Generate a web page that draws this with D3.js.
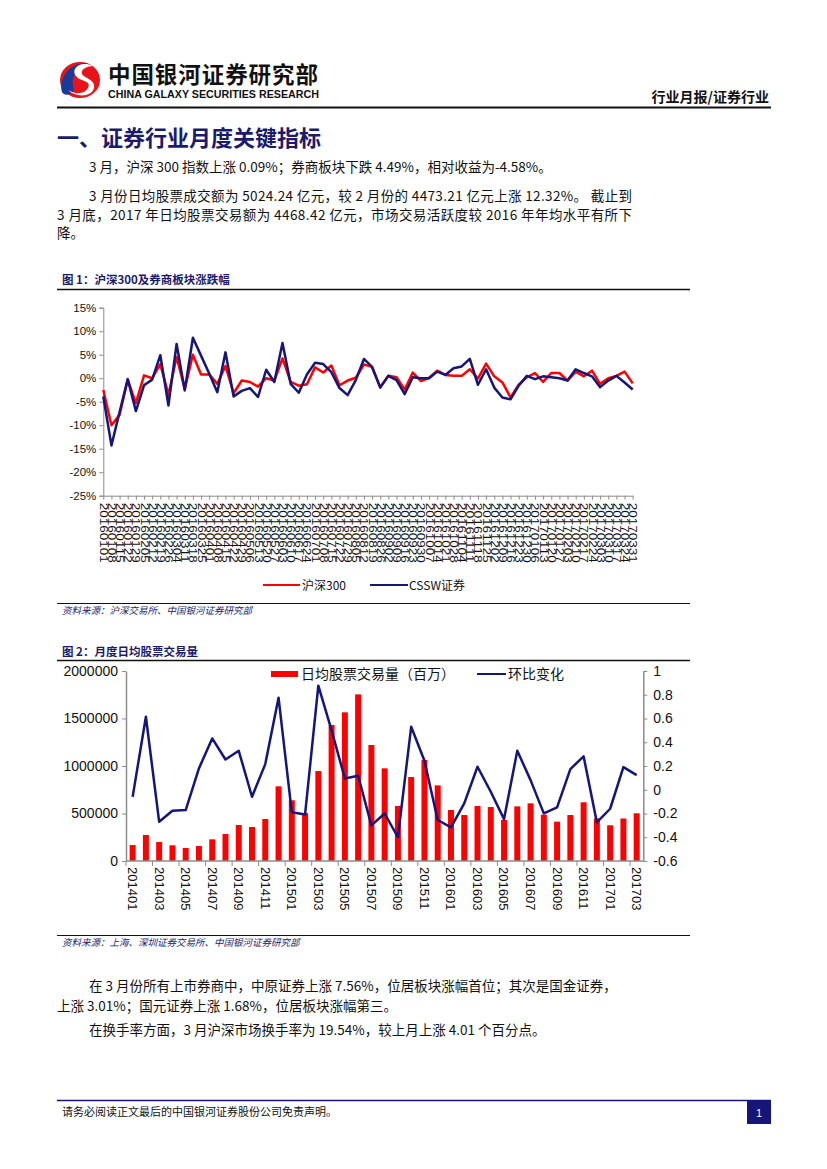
<!DOCTYPE html>
<html><head><meta charset="utf-8">
<script src="https://cdn.jsdelivr.net/npm/d3@7"></script>
<style>
body{margin:0;background:#fff;}
svg{display:block;}
</style></head>
<body><svg id="page" width="827" height="1169"></svg>
<script>
// ---------- Data ----------
const weekLabels = ["20160101","20160108","20160115","20160122","20160129","20160205","20160212","20160219","20160226","20160304",
"20160311","20160318","20160325","20160401","20160408","20160415","20160422","20160429","20160506","20160513",
"20160520","20160527","20160603","20160610","20160617","20160624","20160701","20160708","20160715","20160722",
"20160729","20160805","20160812","20160819","20160826","20160902","20160909","20160916","20160923","20160930",
"20161007","20161014","20161021","20161028","20161104","20161111","20161118","20161125","20161202","20161209",
"20161216","20161223","20161230","20170106","20170113","20170120","20170127","20170203","20170210","20170217",
"20170224","20170303","20170310","20170317","20170324","20170331"];
const hs300 = [-2.5,-10.0,-7.8,-0.3,-5.3,0.6,0.0,3.0,-3.5,4.5,
-2.3,5.0,0.8,0.8,-1.2,2.6,-3.2,-0.5,-0.8,-1.8,
0.0,-0.5,4.2,-0.8,-1.6,-1.3,2.3,1.2,2.7,-1.5,
-0.5,0.1,2.9,2.4,-1.9,0.5,0.2,-2.4,1.2,-0.6,
0.1,1.6,0.7,0.5,0.5,1.9,-0.1,3.1,0.4,-0.9,
-4.1,-1.4,0.2,1.1,-0.8,1.1,1.1,-0.5,1.4,0.4,
1.6,-1.2,0.0,0.5,1.4,-1.1];
const csswSec = [-3.9,-14.3,-7.2,-0.2,-7.0,-1.5,-0.3,4.9,-5.8,7.3,
-2.6,8.6,4.8,1.0,-3.0,5.5,-3.9,-2.7,-2.1,-4.0,
1.8,-0.8,7.5,-1.2,-3.1,0.8,3.3,3.0,1.3,-2.1,
-3.6,-0.4,4.1,2.4,-2.0,0.5,-0.4,-3.4,0.2,0.0,
0.0,1.4,0.7,2.1,2.5,4.1,-1.4,1.9,-2.0,-4.1,
-4.5,-1.6,0.5,-0.2,0.4,0.2,0.0,-0.5,1.9,1.1,
0.4,-1.9,-0.5,0.5,-0.9,-2.4];
const pctTicks = [-25,-20,-15,-10,-5,0,5,10,15];

const months = ["201401","201402","201403","201404","201405","201406","201407","201408","201409","201410","201411","201412",
"201501","201502","201503","201504","201505","201506","201507","201508","201509","201510","201511","201512",
"201601","201602","201603","201604","201605","201606","201607","201608","201609","201610","201611","201612",
"201701","201702","201703"];
const dailyVolume = [168000,274000,200000,165000,137000,158000,228000,284000,379000,358000,
442000,786000,639000,505000,947000,1432000,1565000,1754000,1221000,975000,
579000,884000,1063000,796000,537000,484000,579000,568000,432000,575000,
607000,488000,414000,484000,618000,448000,376000,447321,502424];
const momChange = [-0.06,0.615,-0.27,-0.177,-0.171,0.18,0.432,0.255,0.328,-0.059,
0.216,0.775,-0.19,-0.208,0.876,0.50,0.095,0.118,-0.30,-0.20,
-0.40,0.53,0.244,-0.255,-0.317,-0.115,0.194,-0.017,-0.247,0.328,
0.081,-0.199,-0.149,0.174,0.281,-0.275,-0.16,0.191,0.1232];
const volTicks = [0,500000,1000000,1500000,2000000];
const momTicks = [-0.6,-0.4,-0.2,0,0.2,0.4,0.6,0.8,1];

// ---------- Styles ----------
const RED = "#ff0000", NAVY = "#15157a", TITLE = "#1a1a6e", AXIS = "#8c8c8c";
const CJK = "'Noto Sans CJK SC','Noto Sans',sans-serif";
const LAT = "'Liberation Sans',Arial,sans-serif";

const svg = d3.select("#page");

// ---------- Header ----------
const logo = svg.append("g");
logo.append("ellipse").attr("cx",80).attr("cy",80).attr("rx",20).attr("ry",18).attr("fill","#e8141b");
logo.append("path").attr("d","M62,92 C58,78 70,62 88,63 C76,68 70,78 74,90 C70,96 64,96 62,92 Z").attr("fill","#1a3a9a");
logo.append("path").attr("d","M93,66 C82,60 70,68 76,76 C80,82 92,80 88,88 C84,95 74,94 68,90 C76,98 92,97 94,88 C96,80 84,78 82,74 C80,69 88,66 93,66 Z").attr("fill","#fff");
svg.append("text").attr("x",108).attr("y",83).attr("font-family",CJK).attr("font-weight","bold")
  .attr("font-size",22.5).attr("fill","#111").attr("textLength",210).text("中国银河证券研究部");
svg.append("text").attr("x",108).attr("y",98).attr("font-family",LAT).attr("font-weight","bold")
  .attr("font-size",10).attr("fill","#111").attr("textLength",211).attr("lengthAdjust","spacingAndGlyphs")
  .text("CHINA GALAXY SECURITIES RESEARCH");
svg.append("text").attr("x",769).attr("y",102).attr("text-anchor","end").attr("font-family",CJK)
  .attr("font-weight","bold").attr("font-size",14).attr("fill","#111").text("行业月报/证券行业");
svg.append("line").attr("x1",57).attr("x2",771).attr("y1",107.5).attr("y2",107.5).attr("stroke","#111").attr("stroke-width",2);

// ---------- Heading & paragraphs ----------
svg.append("text").attr("x",57).attr("y",146).attr("font-family",CJK).attr("font-weight","bold")
  .attr("font-size",22).attr("fill",TITLE).text("一、证券行业月度关键指标");

function para(x, y, s, len){
  const t = svg.append("text").attr("x",x).attr("y",y).attr("font-family",CJK).attr("font-size",13.5).attr("fill","#111").text(s);
  if(len) t.attr("textLength",len).attr("lengthAdjust","spacing");
}
para(89,172,"3 月，沪深 300 指数上涨 0.09%；券商板块下跌 4.49%，相对收益为-4.58%。");
para(89,201,"3 月份日均股票成交额为 5024.24 亿元，较 2 月份的 4473.21 亿元上涨 12.32%。 截止到",543);
para(57,220,"3 月底，2017 年日均股票交易额为 4468.42 亿元，市场交易活跃度较 2016 年年均水平有所下",575);
para(57,238,"降。");

// ---------- Figure 1 ----------
svg.append("text").attr("x",62).attr("y",284).attr("font-family",CJK).attr("font-weight","bold")
  .attr("font-size",11.5).attr("fill",TITLE).text("图 1：沪深300及券商板块涨跌幅");
svg.append("line").attr("x1",57).attr("x2",690).attr("y1",289.5).attr("y2",289.5).attr("stroke","#111").attr("stroke-width",1.5);
svg.append("line").attr("x1",57).attr("x2",690).attr("y1",603.5).attr("y2",603.5).attr("stroke","#111").attr("stroke-width",1);
svg.append("text").attr("x",62).attr("y",614).attr("font-family",CJK).attr("font-style","italic")
  .attr("font-size",9.5).attr("fill",TITLE).text("资料来源：沪深交易所、中国银河证券研究部");

const x1 = d3.scalePoint().domain(weekLabels).range([103.3, 632.7]);
const y1 = d3.scaleLinear().domain([-25,15]).range([495.7, 307.7]);

const g1 = svg.append("g");
const yAx1 = g1.append("g").attr("transform","translate(103.3,0)")
  .call(d3.axisLeft(y1).tickValues(pctTicks).tickFormat(d=>d+"%").tickSize(4).tickPadding(3));
yAx1.select(".domain").attr("stroke",AXIS);
yAx1.selectAll(".tick line").attr("stroke",AXIS);
yAx1.selectAll("text").attr("font-family",LAT).attr("font-size",11.5).attr("fill","#111");

const xAx1 = g1.append("g").attr("transform","translate(0,495.7)")
  .call(d3.axisBottom(x1).tickSize(4).tickSizeOuter(0).tickPadding(0));
xAx1.select(".domain").attr("stroke",AXIS);
xAx1.selectAll(".tick line").attr("stroke",AXIS);
xAx1.selectAll("text").attr("font-family",LAT).attr("font-size",11.3).attr("fill","#111")
  .attr("text-anchor","start").attr("transform","translate(0,7) rotate(90)").attr("dy","0.35em").attr("y",0).attr("x",0)
  .attr("textLength",60).attr("lengthAdjust","spacingAndGlyphs");

const line1 = (arr)=> d3.line().x((d,i)=>x1(weekLabels[i])).y(d=>y1(d))(arr);
g1.append("path").attr("d",line1(hs300)).attr("fill","none").attr("stroke",RED).attr("stroke-width",2.5).attr("stroke-linejoin","round");
g1.append("path").attr("d",line1(csswSec)).attr("fill","none").attr("stroke",NAVY).attr("stroke-width",2.5).attr("stroke-linejoin","round");

// legend 1
const lg1 = g1.append("g");
lg1.append("line").attr("x1",263).attr("x2",300).attr("y1",585).attr("y2",585).attr("stroke",RED).attr("stroke-width",2);
lg1.append("text").attr("x",302).attr("y",589.5).attr("font-family",CJK).attr("font-size",12).attr("fill","#111").text("沪深300");
lg1.append("line").attr("x1",370).attr("x2",408).attr("y1",585).attr("y2",585).attr("stroke",NAVY).attr("stroke-width",2);
lg1.append("text").attr("x",409).attr("y",589.5).attr("font-family",CJK).attr("font-size",12).attr("fill","#111").text("CSSW证券");

// ---------- Figure 2 ----------
svg.append("text").attr("x",62).attr("y",656).attr("font-family",CJK).attr("font-weight","bold")
  .attr("font-size",11.5).attr("fill",TITLE).text("图 2：月度日均股票交易量");
svg.append("line").attr("x1",57).attr("x2",690).attr("y1",660.5).attr("y2",660.5).attr("stroke","#111").attr("stroke-width",1.5);
svg.append("line").attr("x1",57).attr("x2",690).attr("y1",935.5).attr("y2",935.5).attr("stroke","#111").attr("stroke-width",1);
svg.append("text").attr("x",62).attr("y",946).attr("font-family",CJK).attr("font-style","italic")
  .attr("font-size",9.5).attr("fill",TITLE).text("资料来源：上海、深圳证券交易所、中国银河证券研究部");

const x2 = d3.scaleBand().domain(months).range([126, 643.3]).paddingInner(0.55).paddingOuter(0.275);
const yL = d3.scaleLinear().domain([0,2000000]).range([861,671]);
const yR = d3.scaleLinear().domain([-0.6,1]).range([861,671]);
const g2 = svg.append("g");

g2.selectAll("rect.bar").data(dailyVolume).join("rect").attr("class","bar")
  .attr("x",(d,i)=>x2(months[i])).attr("width",x2.bandwidth())
  .attr("y",d=>yL(d)).attr("height",d=>yL(0)-yL(d)).attr("fill",RED);

const yAxL = g2.append("g").attr("transform","translate(126,0)")
  .call(d3.axisLeft(yL).tickValues(volTicks).tickFormat(d3.format("d")).tickSize(4).tickSizeOuter(0).tickPadding(4));
const yAxR = g2.append("g").attr("transform","translate(643.3,0)")
  .call(d3.axisRight(yR).tickValues(momTicks).tickFormat(d=>String(+d.toFixed(1))).tickSize(4).tickSizeOuter(0).tickPadding(6));
[yAxL,yAxR].forEach(a=>{
  a.select(".domain").attr("stroke",AXIS).attr("stroke-width",1.5);
  a.selectAll(".tick line").attr("stroke",AXIS);
  a.selectAll("text").attr("font-family",LAT).attr("font-size",14).attr("fill","#111");
});

// bottom axis
const step = x2.step(), off = (step - x2.bandwidth())/2;
g2.append("line").attr("x1",126).attr("x2",643.3).attr("y1",861).attr("y2",861).attr("stroke",AXIS).attr("stroke-width",1.5);
g2.selectAll("line.xt").data(months.filter((m,i)=>i%2===0)).join("line").attr("class","xt")
  .attr("x1",m=>x2(m)-off).attr("x2",m=>x2(m)-off).attr("y1",861).attr("y2",866).attr("stroke",AXIS);
g2.selectAll("text.xl").data(months.filter((m,i)=>i%2===0)).join("text").attr("class","xl")
  .attr("transform",m=>`translate(${x2(m)+x2.bandwidth()/2},867) rotate(90)`)
  .attr("dy","0.35em").attr("font-family",LAT).attr("font-size",13).attr("fill","#111").text(m=>m);

const line2 = d3.line().x((d,i)=>x2(months[i])+x2.bandwidth()/2).y(d=>yR(d));
g2.append("path").attr("d",line2(momChange)).attr("fill","none").attr("stroke",NAVY).attr("stroke-width",2.5).attr("stroke-linejoin","round");

// legend 2
g2.append("rect").attr("x",271).attr("y",671).attr("width",27).attr("height",6).attr("fill",RED);
g2.append("text").attr("x",301).attr("y",679).attr("font-family",CJK).attr("font-size",14).attr("fill","#111").text("日均股票交易量（百万）");
g2.append("line").attr("x1",477).attr("x2",506).attr("y1",674).attr("y2",674).attr("stroke",NAVY).attr("stroke-width",2);
g2.append("text").attr("x",508).attr("y",679).attr("font-family",CJK).attr("font-size",14).attr("fill","#111").text("环比变化");

// ---------- Bottom paragraphs ----------
para(89,991,"在 3 月份所有上市券商中，中原证券上涨 7.56%，位居板块涨幅首位；其次是国金证券，");
para(57,1011,"上涨 3.01%；国元证券上涨 1.68%，位居板块涨幅第三。");
para(89,1035,"在换手率方面，3 月沪深市场换手率为 19.54%，较上月上涨 4.01 个百分点。");

// ---------- Footer ----------
svg.append("line").attr("x1",57).attr("x2",771).attr("y1",1100.5).attr("y2",1100.5).attr("stroke",NAVY).attr("stroke-width",1.5);
svg.append("text").attr("x",62).attr("y",1116).attr("font-family",CJK).attr("font-size",11).attr("fill","#111")
  .text("请务必阅读正文最后的中国银河证券股份公司免责声明。");
svg.append("rect").attr("x",747).attr("y",1101).attr("width",24).attr("height",23).attr("fill",NAVY);
svg.append("text").attr("x",759).attr("y",1117).attr("text-anchor","middle").attr("font-family",LAT)
  .attr("font-size",11).attr("fill","#fff").text("1");
</script>
</body></html>
